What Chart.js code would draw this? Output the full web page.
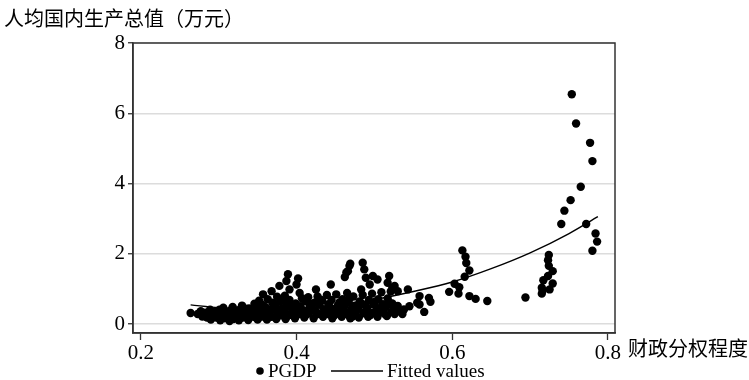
<!DOCTYPE html>
<html>
<head>
<meta charset="utf-8">
<script src="https://cdn.jsdelivr.net/npm/chart.js@4.4.1/dist/chart.umd.min.js"></script>
<style>
  html, body { margin: 0; padding: 0; background: #fff; }
  #wrap { width: 749px; height: 380px; }
</style>
</head>
<body>
<div id="wrap"><canvas id="chart" width="749" height="380"></canvas></div>
<script>
// PGDP scatter, [财政分权程度, 人均GDP(万元)]
let pgdp = [
  [0.264,0.32],[0.273,0.29],[0.279,0.22],[0.277,0.37],[0.285,0.19],[0.283,0.33],
  [0.290,0.13],[0.291,0.27],[0.289,0.41],[0.297,0.19],[0.295,0.35],
  [0.302,0.11],[0.303,0.25],[0.301,0.41],[0.307,0.17],[0.309,0.33],[0.306,0.47],
  [0.314,0.09],[0.313,0.23],[0.315,0.39],[0.319,0.15],[0.321,0.31],[0.318,0.49],
  [0.326,0.11],[0.327,0.27],[0.325,0.40],[0.331,0.19],[0.333,0.35],[0.330,0.53],
  [0.338,0.12],[0.337,0.29],[0.339,0.45],[0.345,0.21],[0.343,0.37],[0.346,0.58],
  [0.350,0.13],[0.351,0.31],[0.349,0.47],[0.352,0.67],
  [0.356,0.22],[0.357,0.39],[0.355,0.57],[0.357,0.85],
  [0.362,0.13],[0.363,0.29],[0.361,0.47],[0.363,0.71],
  [0.368,0.21],[0.367,0.41],[0.369,0.61],[0.368,0.94],
  [0.374,0.15],[0.375,0.33],[0.373,0.51],[0.375,0.78],[0.378,1.09],
  [0.380,0.25],[0.381,0.45],[0.379,0.65],
  [0.386,0.15],[0.385,0.35],[0.387,0.55],[0.385,0.81],
  [0.387,1.23],[0.389,1.42],[0.391,0.99],
  [0.392,0.27],[0.393,0.47],[0.391,0.69],
  [0.398,0.17],[0.397,0.37],[0.399,0.59],[0.400,1.13],[0.402,1.30],
  [0.404,0.29],[0.405,0.51],[0.404,0.89],
  [0.410,0.19],[0.409,0.39],[0.411,0.65],
  [0.416,0.31],[0.417,0.51],[0.415,0.77],
  [0.422,0.17],[0.421,0.43],[0.423,0.61],[0.425,0.99],
  [0.428,0.29],[0.429,0.55],[0.427,0.79],
  [0.434,0.21],[0.435,0.43],[0.433,0.67],
  [0.440,0.29],[0.441,0.57],[0.439,0.83],[0.444,1.13],
  [0.446,0.17],[0.447,0.41],[0.445,0.69],[0.451,0.85],
  [0.452,0.31],[0.453,0.53],
  [0.458,0.21],[0.457,0.45],[0.459,0.71],
  [0.462,1.34],[0.464,0.29],[0.463,0.57],[0.465,0.89],[0.464,1.47],
  [0.466,1.51],[0.468,1.66],[0.469,1.72],
  [0.469,0.17],[0.470,0.41],[0.468,0.73],
  [0.474,0.29],[0.475,0.53],[0.473,0.79],
  [0.480,0.19],[0.479,0.45],[0.481,0.65],[0.483,0.99],
  [0.485,1.75],[0.486,0.31],[0.487,0.55],[0.485,0.83],[0.487,1.56],[0.489,1.32],
  [0.492,0.21],[0.491,0.47],[0.493,0.69],[0.494,1.13],
  [0.498,0.33],[0.499,0.57],[0.497,0.87],[0.498,1.37],
  [0.504,0.21],[0.503,0.47],[0.505,0.71],[0.504,1.27],
  [0.510,0.35],[0.511,0.57],[0.509,0.91],
  [0.516,0.23],[0.515,0.49],[0.517,0.73],[0.517,1.18],[0.519,1.37],
  [0.522,0.35],[0.523,0.59],[0.521,0.93],[0.523,1.04],
  [0.526,0.29],[0.526,1.09],[0.530,0.37],[0.530,0.52],[0.530,0.94],
  [0.536,0.29],[0.538,0.42],[0.545,0.51],[0.543,0.99],
  [0.555,0.61],[0.558,0.80],[0.558,0.56],[0.564,0.35],[0.570,0.75],[0.572,0.64],
  // extra points inside the dense band
  [0.293,0.22],[0.299,0.30],[0.311,0.28],[0.317,0.20],[0.323,0.36],[0.329,0.24],
  [0.335,0.44],[0.341,0.26],[0.347,0.42],[0.353,0.22],[0.359,0.50],[0.365,0.36],
  [0.371,0.58],[0.377,0.40],[0.383,0.68],[0.389,0.24],[0.395,0.54],[0.401,0.42],
  [0.407,0.74],[0.413,0.28],[0.419,0.58],[0.425,0.36],[0.431,0.70],[0.437,0.34],
  [0.443,0.48],[0.449,0.26],[0.455,0.62],[0.461,0.38],[0.467,0.62],[0.472,0.22],
  [0.477,0.38],[0.483,0.60],[0.489,0.38],[0.495,0.26],[0.501,0.64],[0.507,0.40],
  [0.513,0.30],[0.519,0.62],[0.525,0.44],
  [0.596,0.92],[0.603,1.15],[0.608,0.87],[0.609,1.05],[0.613,2.10],[0.616,1.35],
  [0.617,1.92],[0.618,1.74],[0.622,1.53],[0.622,0.80],[0.630,0.72],[0.645,0.66],
  [0.694,0.76],[0.715,0.87],[0.716,0.96],[0.725,0.99],[0.715,1.04],[0.729,1.16],
  [0.717,1.25],[0.723,1.37],[0.729,1.51],[0.724,1.66],[0.723,1.82],[0.724,1.97],
  [0.740,2.85],[0.744,3.23],[0.752,3.53],[0.7535,6.54],[0.759,5.71],[0.765,3.91],
  [0.772,2.85],[0.777,5.16],[0.780,4.64],[0.780,2.09],[0.784,2.58],[0.786,2.35]
];

// fitted curve
let fitX = [0.264, 0.30, 0.35, 0.40, 0.45, 0.50, 0.55, 0.60, 0.65, 0.70, 0.75, 0.787];
let fitY = [0.55, 0.47, 0.42, 0.44, 0.53, 0.70, 0.93, 1.20, 1.58, 2.03, 2.58, 3.06];

let xTicks = [0.2, 0.4, 0.6, 0.8];
let yTicks = [0, 2, 4, 6, 8];

let serif = "'Liberation Serif', 'Times New Roman', serif";
let cjk = "'Noto Sans CJK SC', sans-serif";

// frame, axis titles and legend
let extras = {
  id: "extras",
  afterDraw(chart) {
    let ctx = chart.ctx;
    let a = chart.chartArea;
    ctx.save();
    ctx.strokeStyle = "#333";
    ctx.lineWidth = 1.5;
    ctx.strokeRect(a.left, a.top, a.right - a.left, a.bottom - a.top);

    ctx.fillStyle = "#000";
    ctx.textBaseline = "middle";
    ctx.font = "20px " + cjk;
    ctx.textAlign = "left";
    ctx.fillText("人均国内生产总值（万元）", 4, 18);
    ctx.fillText("财政分权程度", 628, 348);

    // legend
    let ly = 371;
    ctx.beginPath();
    ctx.arc(260, ly, 3.8, 0, Math.PI * 2);
    ctx.fill();
    ctx.font = "19px " + serif;
    ctx.fillText("PGDP", 268, ly + 1);
    ctx.beginPath();
    ctx.moveTo(331, ly);
    ctx.lineTo(383, ly);
    ctx.lineWidth = 1.4;
    ctx.strokeStyle = "#000";
    ctx.stroke();
    ctx.fillText("Fitted values", 387, ly + 1);
    ctx.restore();
  }
};

let ctx = document.getElementById("chart").getContext("2d");
new Chart(ctx, {
  type: "scatter",
  data: {
    datasets: [{
      label: "PGDP",
      data: pgdp.map(p => ({ x: p[0], y: p[1] })),
      backgroundColor: "#000",
      borderWidth: 0,
      pointRadius: 4.2,
      pointHoverRadius: 4.2
    }, {
      type: "line",
      label: "Fitted values",
      data: fitX.map((x, i) => ({ x: x, y: fitY[i] })),
      borderColor: "#000",
      borderWidth: 1.4,
      pointRadius: 0,
      fill: false,
      cubicInterpolationMode: "monotone"
    }]
  },
  options: {
    responsive: false,
    animation: false,
    layout: { padding: { left: 0, right: 134, top: 43, bottom: 12 } },
    plugins: { legend: { display: false }, tooltip: { enabled: false } },
    scales: {
      x: {
        type: "linear",
        min: 0.19,
        max: 0.809,
        afterFit: s => { s.height = 35; },
        afterBuildTicks: s => { s.ticks = xTicks.map(v => ({ value: v })); },
        ticks: { font: { family: serif, size: 21 }, color: "#000", padding: 1, maxRotation: 0 },
        grid: { drawOnChartArea: false, drawTicks: true, tickLength: 7, tickColor: "#333", tickWidth: 1.3 },
        border: { color: "#333", width: 1.5 }
      },
      y: {
        min: -0.25,
        max: 8,
        afterFit: s => { s.width = 133; },
        afterBuildTicks: s => { s.ticks = yTicks.map(v => ({ value: v })); },
        ticks: { font: { family: serif, size: 21 }, color: "#000", padding: 3 },
        grid: { color: "#dcdcdc", lineWidth: 1.5, tickLength: 5, tickColor: "#333", tickWidth: 1.3 },
        border: { color: "#333", width: 1.5 }
      }
    }
  },
  plugins: [extras]
});
</script>
</body>
</html>
